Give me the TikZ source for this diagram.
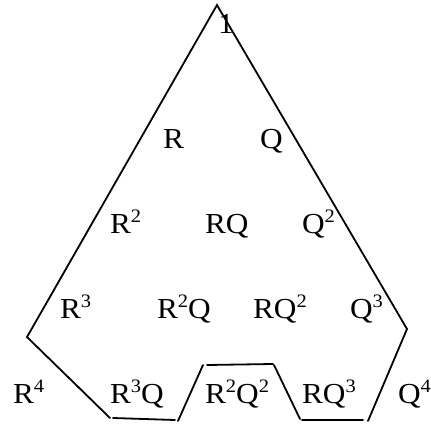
\documentclass[tikz,border=0pt]{standalone}
\usepackage{fontspec}
\setmainfont[FakeStretch=1.08]{Liberation Serif}
\newcommand\sups[1]{\raisebox{11pt}{\fontsize{19}{19}\selectfont #1}}
\begin{document}
\begin{tikzpicture}[x=1pt,y=-1pt,
  edge/.style={line width=1.8pt,line cap=round,line join=miter},
  lbl/.style={anchor=base west,inner sep=0pt,outer sep=0pt,font=\fontsize{29}{32}\selectfont}]
\useasboundingbox (0,0) rectangle (431,423);
% outline points
\coordinate (top) at (217,5);
\coordinate (lv) at (27,337);
\coordinate (lb) at (110,418);
\coordinate (rv) at (407,329);
\coordinate (rb) at (368,421);
\coordinate (a1) at (113,418);
\coordinate (a2) at (175,420);
\coordinate (b1) at (178,421);
\coordinate (b2) at (203,365);
\coordinate (c1) at (207,365);
\coordinate (c2) at (273,364);
\coordinate (d1) at (274,365);
\coordinate (d2) at (300,419);
\coordinate (e1) at (302,420);
\coordinate (e2) at (363,420);
\draw[edge] (lb) -- (lv) -- (top) -- (rv) -- (rb);
\draw[edge] (a1) -- (a2);
\draw[edge] (b1) -- (b2);
\draw[edge] (c1) -- (c2);
\draw[edge] (d1) -- (d2);
\draw[edge] (e1) -- (e2);
% labels
\node[lbl] (n1) at (218,33) {1};
\node[lbl] (nR) at (163,148) {R};
\node[lbl] (nQ) at (260,148) {Q};
\node[lbl] (nR2) at (110,233) {R\sups{2}};
\node[lbl] (nRQ) at (205,233) {RQ};
\node[lbl] (nQ2) at (302,233) {Q\sups{2}};
\node[lbl] (nR3) at (60,318) {R\sups{3}};
\node[lbl] (nR2Q) at (157,318) {R\sups{2}Q};
\node[lbl] (nRQ2) at (253,318) {RQ\sups{2}};
\node[lbl] (nQ3) at (350,318) {Q\sups{3}};
\node[lbl] (nR4) at (13,403) {R\sups{4}};
\node[lbl] (nR3Q) at (110,403) {R\sups{3}Q};
\node[lbl] (nR2Q2) at (205,403) {R\sups{2}Q\sups{2}};
\node[lbl] (nRQ3) at (302,403) {RQ\sups{3}};
\node[lbl] (nQ4) at (398,403) {Q\sups{4}};
\end{tikzpicture}
\end{document}
